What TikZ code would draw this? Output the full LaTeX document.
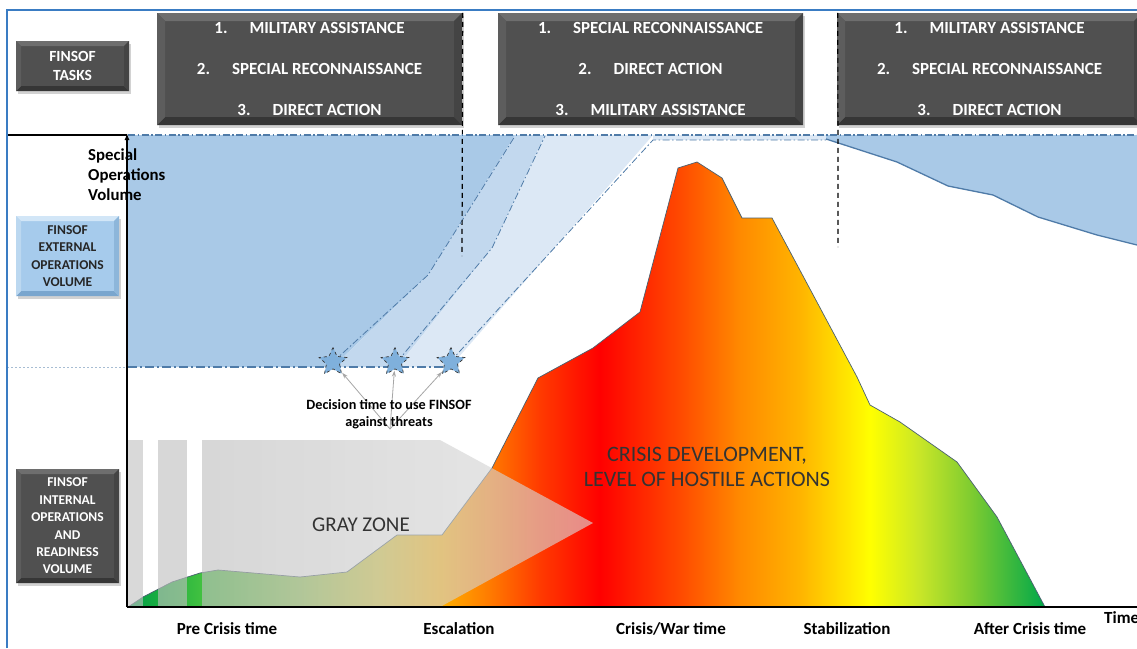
\documentclass[tikz,border=0pt]{standalone}
\usepackage{fontspec}
\setmainfont{Carlito}
\usetikzlibrary{shapes.geometric,shadows,arrows.meta}
\definecolor{frameblue}{HTML}{3A7CC3}
\definecolor{regA}{HTML}{A9C9E7}
\definecolor{regB}{HTML}{C2D8EE}
\definecolor{regC}{HTML}{DCE8F5}
\definecolor{lineblue}{HTML}{4F7BA8}
\definecolor{boxbase}{HTML}{505050}
\definecolor{boxtop}{HTML}{6E6E6E}
\definecolor{boxbot}{HTML}{363636}
\definecolor{boxleft}{HTML}{5D5D5D}
\definecolor{boxright}{HTML}{444444}
\definecolor{bbase}{HTML}{A6CBEC}
\definecolor{btop}{HTML}{D2E6F7}
\definecolor{bbot}{HTML}{7AA6CE}
\definecolor{bleft}{HTML}{BCD8F0}
\definecolor{bright}{HTML}{8DB6DA}
\definecolor{slate}{HTML}{4A6070}
\definecolor{starfill}{HTML}{7FB0DC}
\definecolor{cA}{HTML}{009F4A}
\definecolor{cB}{HTML}{1AAE40}
\definecolor{cC}{HTML}{40C040}
\definecolor{cD}{HTML}{90C850}
\definecolor{cE}{HTML}{D8C838}
\definecolor{cF}{HTML}{FFB000}
\definecolor{cG}{HTML}{FF7A00}
\definecolor{cH}{HTML}{FF3A00}
\definecolor{cI}{HTML}{FF0000}
\definecolor{cJ}{HTML}{FF4A00}
\definecolor{cK}{HTML}{FF8A00}
\definecolor{cL}{HTML}{FFB400}
\definecolor{cM}{HTML}{FFFF00}
\definecolor{cN}{HTML}{C8E628}
\definecolor{cO}{HTML}{80CC30}
\definecolor{cP}{HTML}{00A84A}
\pgfdeclarehorizontalshading{crisis}{100bp}{color(0bp)=(cA); color(25bp)=(cA); color(26.74bp)=(cB); color(28.93bp)=(cC); color(34.38bp)=(cD); color(38.74bp)=(cE); color(42.01bp)=(cF); color(44.74bp)=(cG); color(47.47bp)=(cH); color(50.74bp)=(cI); color(55.10bp)=(cJ); color(58.37bp)=(cK); color(61.64bp)=(cL); color(65.46bp)=(cM); color(68.18bp)=(cN); color(70.91bp)=(cO); color(75bp)=(cP); color(100bp)=(cP)}
\tikzset{
  bevel/.style n args={6}{fill=#1, path picture={
    \fill[#2] (path picture bounding box.north west) -- (path picture bounding box.north east) -- ([shift={(-#6,-#6)}]path picture bounding box.north east) -- ([shift={(#6,-#6)}]path picture bounding box.north west) -- cycle;
    \fill[#3] (path picture bounding box.south west) -- (path picture bounding box.south east) -- ([shift={(-#6,#6)}]path picture bounding box.south east) -- ([shift={(#6,#6)}]path picture bounding box.south west) -- cycle;
    \fill[#4] (path picture bounding box.north west) -- (path picture bounding box.south west) -- ([shift={(#6,#6)}]path picture bounding box.south west) -- ([shift={(#6,-#6)}]path picture bounding box.north west) -- cycle;
    \fill[#5] (path picture bounding box.north east) -- (path picture bounding box.south east) -- ([shift={(-#6,#6)}]path picture bounding box.south east) -- ([shift={(-#6,-#6)}]path picture bounding box.north east) -- cycle;
  }},
  shadowed/.style={drop shadow={opacity=0.35,shadow xshift=2pt,shadow yshift=-2.5pt}},
  taskbox/.style={bevel={boxbase}{boxtop}{boxbot}{boxleft}{boxright}{8pt}, shadowed, text=white, align=center, inner sep=0pt,
    minimum width=305pt, minimum height=112pt, font=\bfseries\fontsize{17}{41}\selectfont},
  sidebox/.style={bevel={boxbase}{boxtop}{boxbot}{boxleft}{boxright}{5pt}, shadowed, text=white, align=center, inner sep=0pt},
  bluebox/.style={bevel={bbase}{btop}{bbot}{bleft}{bright}{5pt}, shadowed, text=black!85, align=center, inner sep=0pt},
  dashdot/.style={lineblue, line width=0.8pt, dash pattern=on 7pt off 2.5pt on 1.5pt off 2.5pt},
  vdash/.style={black, line width=1.2pt, dash pattern=on 5pt off 4pt},
  axisline/.style={black, line width=1.4pt},
  axlabel/.style={anchor=base, font=\bfseries\fontsize{17}{20}\selectfont, inner sep=0pt},
  starnode/.style={star, star points=5, star point ratio=2.1, minimum size=29pt, inner sep=0pt, fill=starfill, draw=black!80, dashed, line width=0.7pt},
  fanarrow/.style={gray!70, line width=0.8pt, -{Stealth[length=6pt,width=4pt]}, shorten >=1pt},
}
\begin{document}
\begin{tikzpicture}[x=1pt,y=-1pt]
\useasboundingbox[fill=white] (0,0) rectangle (1137,648);

% external operations volume regions
\fill[regA] (128,135) -- (515,135) -- (428,275) -- (333,367) -- (128,367) -- cycle;
\fill[regB] (515,135) -- (545,135) -- (492,248) -- (397,367) -- (333,367) -- (428,275) -- cycle;
\fill[regC] (545,135) -- (653,135) -- (450,367) -- (397,367) -- (492,248) -- cycle;
\fill[regC] (653,135) -- (826,135) -- (826,140) -- (653,140) -- cycle;
\fill[regA] (826,135) -- (826,139) -- (897,162) -- (948,186) -- (993,195) -- (1038,217) -- (1097,235) -- (1137,245) -- (1137,135) -- cycle;
\draw[dashdot] (333,362) -- (428,275) -- (515,136);
\draw[dashdot] (397,362) -- (492,248) -- (545,136);
\draw[dashdot] (450,362) -- (653,140) -- (826,140);
\draw[lineblue, line width=1.3pt] (826,139) -- (897,162) -- (948,186) -- (993,195) -- (1038,217) -- (1097,235) -- (1137,245);
\draw[lineblue, line width=1.4pt, dash pattern=on 9pt off 3pt on 2pt off 3pt] (128,367) -- (450,367);
\draw[lineblue!50, line width=0.6pt, dash pattern=on 2pt off 2pt] (7,367) -- (128,367);

% crisis development area
\shade[shading=crisis, draw=slate, line width=0.7pt] (128,607) -- (143,597) -- (172,582) -- (200,573) -- (218,570) -- (300,577) -- (347,572) -- (397,535) -- (442,535) -- (492,468) -- (538,378) -- (593,348) -- (640,312) -- (678,168) -- (697,162) -- (722,178) -- (742,218) -- (772,218) -- (857,377) -- (870,405) -- (900,422) -- (957,462) -- (997,517) -- (1045,607) -- cycle;

% gray zone overlay
\fill[gray!48, fill opacity=0.62] (128,440) rectangle (143,607);
\fill[gray!50, fill opacity=0.62] (158,440) rectangle (187,607);
\shade[left color=gray!50, middle color=gray!65, right color=gray!28, fill opacity=0.62] (202,440) -- (440,440) -- (593,523) -- (440,607) -- (202,607) -- cycle;

\node[font=\fontsize{21}{25}\selectfont, text=black!80, inner sep=0pt] (gz) at (361,525) {GRAY ZONE};
\node[font=\fontsize{22}{25}\selectfont, text=black!80, align=center, inner sep=0pt] (cd) at (707,467) {CRISIS DEVELOPMENT,\\LEVEL OF HOSTILE ACTIONS};

% decision stars
\node[starnode] (s1) at (333,362) {};
\node[starnode] (s2) at (395,362) {};
\node[starnode] (s3) at (451,362) {};
\coordinate (fan) at (390,429);
\draw[fanarrow] (fan) -- (s1);
\draw[fanarrow] (fan) -- (s2);
\draw[fanarrow] (fan) -- (s3);
\node[font=\bfseries\fontsize{14.2}{17}\selectfont, align=center, inner sep=0pt] (dec) at (389,414) {Decision time to use FINSOF\\against threats};

% task boxes
\node[taskbox] (t1) at (309.5,69) {1.\hspace{22pt}MILITARY ASSISTANCE\\2.\hspace{22pt}SPECIAL RECONNAISSANCE\\3.\hspace{22pt}DIRECT ACTION};
\node[taskbox] (t2) at (650.5,69) {1.\hspace{22pt}SPECIAL RECONNAISSANCE\\2.\hspace{22pt}DIRECT ACTION\\3.\hspace{22pt}MILITARY ASSISTANCE};
\node[taskbox] (t3) at (989.5,69) {1.\hspace{22pt}MILITARY ASSISTANCE\\2.\hspace{22pt}SPECIAL RECONNAISSANCE\\3.\hspace{22pt}DIRECT ACTION};

% side boxes
\node[sidebox, minimum width=113pt, minimum height=50pt, font=\bfseries\fontsize{15.5}{18.5}\selectfont] (ft) at (72.5,66) {FINSOF\\TASKS};
\node[bluebox, minimum width=103pt, minimum height=80pt, font=\bfseries\fontsize{13.5}{17.5}\selectfont] (fe) at (67.5,256) {FINSOF\\EXTERNAL\\OPERATIONS\\VOLUME};
\node[sidebox, minimum width=103pt, minimum height=114pt, font=\bfseries\fontsize{13.5}{17.4}\selectfont] (fi) at (67.5,526) {FINSOF\\INTERNAL\\OPERATIONS\\AND\\READINESS\\VOLUME};

% vertical phase separators
\coordinate (d1b) at (462,256);
\coordinate (d2b) at (838,247);
\draw[vdash] ([xshift=0.5pt]t1.north east) -- (d1b);
\draw[vdash] ([xshift=1pt]t3.north west) -- (d2b);

% special operations volume label
\node[anchor=west, align=left, inner sep=0pt, font=\bfseries\fontsize{16.8}{20}\selectfont] (sov) at (88,175) {Special\\Operations\\Volume};

% frame and axes
\coordinate (fl) at (7,135);
\coordinate (O) at (127,607);
\coordinate (Ytop) at (127,133);
\coordinate (Xend) at (1137,607);
\coordinate (axtop) at (127,135);
\draw[black, line width=1.2pt] (fl) -- (axtop);
\draw[lineblue, line width=1.4pt, dash pattern=on 7pt off 2.5pt on 1.5pt off 2.5pt] (128,135) -- (1137,135);
\draw[axisline, -{Latex[length=7pt,width=5pt]}] (O) -- (Ytop);
\draw[axisline] (O) -- (Xend);
\draw[frameblue, line width=2pt] (7,648) -- (7,10) -- (1137,10);

% time labels
\node[axlabel] (l1) at (227,634) {Pre Crisis time};
\node[axlabel] (l2) at (459,634) {Escalation};
\node[axlabel] (l3) at (671,634) {Crisis/War time};
\node[axlabel] (l4) at (847,634) {Stabilization};
\node[axlabel] (l5) at (1030,634) {After Crisis time};
\node[axlabel, anchor=base west] (l6) at (1104,623) {Time};
\end{tikzpicture}
\end{document}
